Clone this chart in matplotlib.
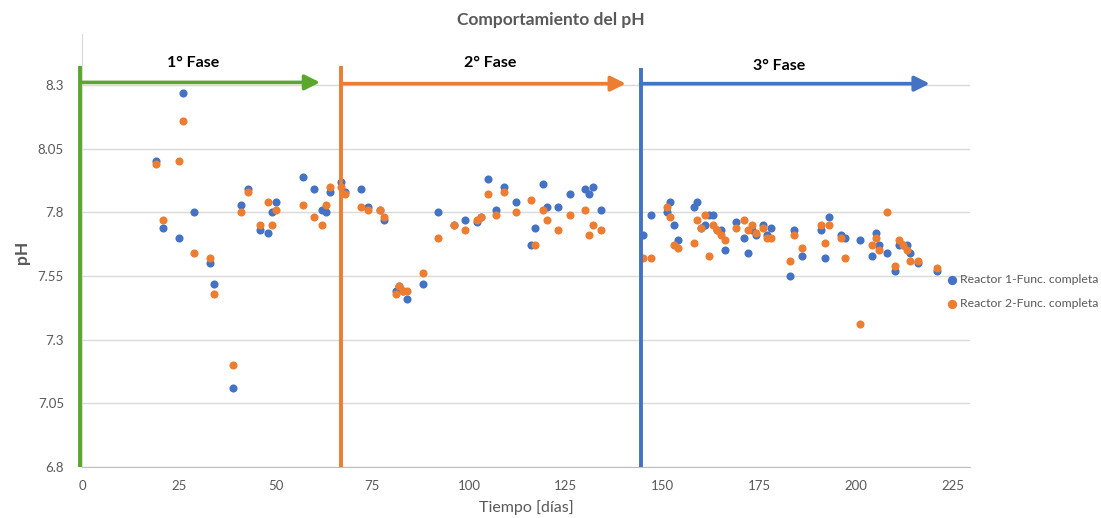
import matplotlib
matplotlib.use("Agg")
import matplotlib.pyplot as plt
from matplotlib.lines import Line2D

plt.rcParams['font.family'] = ['Lato', 'DejaVu Sans']

# Sampling days
dias = [19, 21, 25, 26, 29, 33, 34, 39, 41, 43, 46, 48, 49, 50, 57, 60, 62, 63, 64, 67, 68,
        72, 74, 77, 78, 81, 82, 83, 84, 88, 92, 96, 99, 102, 103, 105, 107, 109, 112, 116,
        117, 119, 120, 123, 126, 130, 131, 132, 134,
        145, 147, 151, 152, 153, 154, 158, 159, 160, 161, 162, 163, 164, 165, 166, 169, 171,
        172, 173, 174, 176, 177, 178, 183, 184, 186, 191, 192, 193, 196, 197, 201, 204, 205,
        206, 208, 210, 211, 212, 213, 214, 216, 221]

ph_reactor1 = [8.00, 7.74, 7.70, 8.27, 7.80, 7.60, 7.52, 7.11, 7.83, 7.89, 7.73, 7.72, 7.80,
               7.84, 7.94, 7.89, 7.81, 7.80, 7.88, 7.92, 7.88,
               7.89, 7.82, 7.81, 7.77, 7.49, 7.51, 7.49, 7.46, 7.52, 7.80, 7.75, 7.77, 7.76,
               7.78, 7.93, 7.81, 7.90, 7.84, 7.67, 7.74, 7.91, 7.82, 7.82, 7.87, 7.89, 7.87,
               7.90, 7.81,
               7.71, 7.79, 7.80, 7.84, 7.75, 7.69, 7.82, 7.84, 7.74, 7.75, 7.79, 7.79, 7.73,
               7.73, 7.65, 7.76, 7.70, 7.64, 7.73, 7.71, 7.75, 7.71, 7.74, 7.55, 7.73, 7.63,
               7.73, 7.62, 7.78, 7.71, 7.70, 7.69, 7.63, 7.72, 7.67, 7.64, 7.57, 7.67, 7.67,
               7.67, 7.64, 7.60, 7.57]

ph_reactor2 = [7.99, 7.77, 8.00, 8.16, 7.64, 7.62, 7.48, 7.20, 7.80, 7.88, 7.75, 7.84, 7.75,
               7.81, 7.83, 7.78, 7.75, 7.83, 7.90, 7.90, 7.87,
               7.82, 7.81, 7.81, 7.78, 7.48, 7.51, 7.49, 7.49, 7.56, 7.70, 7.75, 7.73, 7.77,
               7.78, 7.87, 7.79, 7.88, 7.80, 7.85, 7.67, 7.81, 7.77, 7.73, 7.79, 7.81, 7.71,
               7.75, 7.73,
               7.62, 7.62, 7.82, 7.78, 7.67, 7.66, 7.68, 7.77, 7.74, 7.79, 7.63, 7.75, 7.73,
               7.71, 7.69, 7.74, 7.77, 7.73, 7.75, 7.72, 7.74, 7.70, 7.70, 7.61, 7.71, 7.66,
               7.75, 7.68, 7.75, 7.70, 7.62, 7.36, 7.67, 7.70, 7.65, 7.80, 7.59, 7.69, 7.67,
               7.65, 7.61, 7.61, 7.58]

y_ticks = [6.8, 7.05, 7.3, 7.55, 7.8, 8.05, 8.3]
y_tick_labels = ["6.8", "7.05", "7.3", "7.55", "7.8", "8.05", "8.3"]
x_ticks = [0, 25, 50, 75, 100, 125, 150, 175, 200, 225]

fase_labels = ["1° Fase", "2° Fase", "3° Fase"]
fase_inicio = [-0.4, 67, 144.3]
fase_fin = [61.5, 140.5, 219.0]

BLUE = "#4472C4"
ORANGE = "#ED7D31"
GREEN = "#5AA72E"
GRAY_TEXT = "#595959"
GRID = "#D9D9D9"

fig = plt.figure(figsize=(11.01, 5.18), dpi=100)
ax = fig.add_axes([82 / 1101, 51 / 518, 888 / 1101, 433 / 518])

ax.set_xlim(0, 229.4)
ax.set_ylim(6.8, 8.5)

ax.set_yticks(y_ticks)
ax.set_yticklabels(y_tick_labels)
ax.set_xticks(x_ticks)
ax.tick_params(axis='both', length=0, colors=GRAY_TEXT, labelsize=9.5)
ax.tick_params(axis='y', pad=13)
ax.tick_params(axis='x', pad=9)
ax.grid(axis='y', color=GRID, linewidth=1.0)
ax.set_axisbelow(True)

for side in ("top", "right"):
    ax.spines[side].set_visible(False)
ax.spines["left"].set_color(GRID)
ax.spines["bottom"].set_color("#BFBFBF")

ax.scatter(dias, ph_reactor1, s=34, color=BLUE, linewidths=0, zorder=3,
           label="Reactor 1-Func. completa")
ax.scatter(dias, ph_reactor2, s=34, color=ORANGE, linewidths=0, zorder=4,
           label="Reactor 2-Func. completa")

# Phase markers: vertical start line plus horizontal arrow
fase_colores = [GREEN, ORANGE, BLUE]
fase_top = [8.375, 8.375, 8.365]
fase_arrow_y = [8.31, 8.305, 8.305]
fase_text_x = [28.7, 105.4, 180.0]
fase_text_y = [8.386, 8.386, 8.375]
for lbl, x0, x1, c, top, ay, tx, ty in zip(fase_labels, fase_inicio, fase_fin, fase_colores,
                                           fase_top, fase_arrow_y, fase_text_x, fase_text_y):
    ax.add_line(Line2D([x0, x0], [6.8, top], color=c, linewidth=2.8, zorder=5,
                       solid_capstyle='butt', clip_on=False))
    ax.annotate("", xy=(x1, ay), xytext=(x0, ay),
                arrowprops=dict(arrowstyle="-|>,head_length=0.9,head_width=0.45",
                                color=c, lw=2.6, shrinkA=0, shrinkB=0), zorder=5)
    ax.text(tx, ty, lbl, ha='center', va='center', fontsize=11.5, fontweight='bold',
            color="black", zorder=6)

fig.text(551 / 1101, 1 - 20 / 518, "Comportamiento del pH", ha='center', va='center',
         fontsize=12.5, fontweight='bold', color=GRAY_TEXT)
fig.text(526 / 1101, 1 - 508 / 518, "Tiempo [días]", ha='center', va='center',
         fontsize=11.5, color=GRAY_TEXT)
fig.text(22 / 1101, 1 - 252 / 518, "pH", ha='center', va='center', rotation=90,
         fontsize=12.5, fontweight='bold', color=GRAY_TEXT)

leg = fig.legend(loc='upper left', bbox_to_anchor=(946 / 1101, 1 - 274 / 518),
                 frameon=False, fontsize=8.8, labelcolor=GRAY_TEXT, handletextpad=0.15,
                 handlelength=1.0, labelspacing=1.05, markerscale=1.15,
                 borderaxespad=0, borderpad=0)

fig.savefig("out.png", dpi=100, facecolor="white")
